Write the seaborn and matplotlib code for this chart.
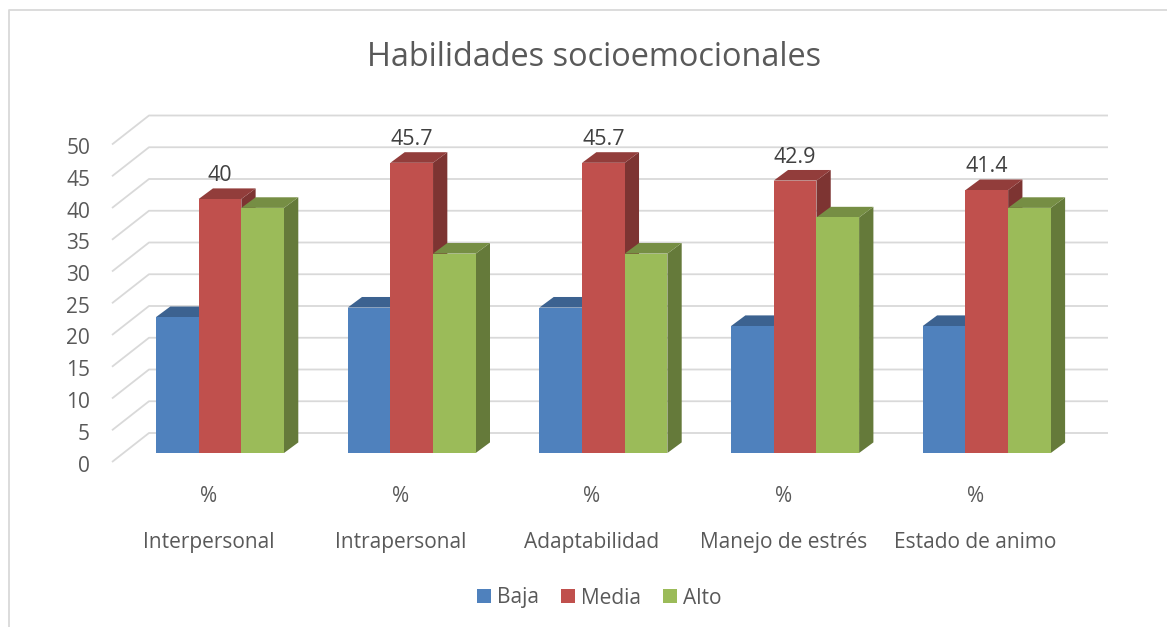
import pandas as pd
import matplotlib.pyplot as plt
import matplotlib.colors as mcolors
from matplotlib.lines import Line2D
from matplotlib.patches import Polygon
import seaborn as sns

# --- Data ---
categories = ["Interpersonal", "Intrapersonal", "Adaptabilidad", "Manejo de estrés", "Estado de animo"]
baja = [21.4, 22.9, 22.9, 20.0, 20.0]
media = [40.0, 45.7, 45.7, 42.9, 41.4]
alto = [38.6, 31.4, 31.4, 37.1, 38.6]
yticks = [0, 5, 10, 15, 20, 25, 30, 35, 40, 45, 50]
colors = ["#4F81BD", "#C0504D", "#9BBB59"]

df = pd.DataFrame({
    "Categoria": categories * 3,
    "Nivel": ["Baja"] * 5 + ["Media"] * 5 + ["Alto"] * 5,
    "Valor": baja + media + alto,
})

# --- Layout, in reference pixels ---
W, H = 1167, 627
cat_px = 191.7      # width of one category
val_px = 6.35       # height of one unit
x0_px = 220.0       # centre of first group on the bars' front plane
y0_px = 453.0       # value 0 on the bars' front plane
depth_x = 14.3 / cat_px
depth_y = 10.6 / val_px
grey = "#D9D9D9"
text_grey = "#595959"

def dark(color, f):
    r, g, b = mcolors.to_rgb(color)
    return (r * f, g * f, b * f)

sns.set_theme(style="white")
plt.rcParams["font.family"] = ["Open Sans", "DejaVu Sans"]

fig = plt.figure(figsize=(W / 100, H / 100), dpi=100)
ax = fig.add_axes([0, 0, 1, 1])

sns.barplot(data=df, x="Categoria", y="Valor", hue="Nivel", palette=colors, saturation=1,
            width=128 / cat_px, gap=0, linewidth=0, ax=ax, zorder=3)

ax.set_xlim((0 - x0_px) / cat_px, (W - x0_px) / cat_px)
ax.set_ylim((y0_px - H) / val_px, y0_px / val_px)
ax.set_axis_off()

# --- Walls: gridlines with the diagonal at the left ---
front_x = (112 - x0_px) / cat_px
back_x = (149 - x0_px) / cat_px
right_x = (1108 - x0_px) / cat_px
front_off = (y0_px - 462) / val_px
back_off = (y0_px - 433) / val_px
label_off = (y0_px - 463.5) / val_px
for v in yticks:
    ax.plot([front_x, back_x, right_x], [v + front_off, v + back_off, v + back_off],
            color=grey, lw=1.3, zorder=1, solid_capstyle="butt")
    ax.text(front_x - 22 / cat_px, v + label_off, str(v), ha="right", va="center_baseline",
            fontsize=15, color=text_grey)

# --- Depth of the bars, from the bars seaborn drew ---
for i, (container, color) in enumerate(zip(ax.containers, colors)):
    for bar in container:
        x1, x2 = bar.get_x(), bar.get_x() + bar.get_width()
        top = bar.get_height()
        side = Polygon([(x2, 0), (x2 + depth_x, depth_y), (x2 + depth_x, top + depth_y), (x2, top)],
                       fc=dark(color, 0.65), ec="none", zorder=2 + i)
        lid = Polygon([(x1, top), (x1 + depth_x, top + depth_y), (x2 + depth_x, top + depth_y), (x2, top)],
                      fc=dark(color, 0.76), ec="none", zorder=2.1 + i)
        ax.add_patch(side)
        ax.add_patch(lid)
        bar.set_zorder(2.2 + i)

# --- Data labels, only on Media ---
for bar, val in zip(ax.containers[1], media):
    ax.text(bar.get_x() + bar.get_width() / 2, val + 26 / val_px, f"{val:g}",
            ha="center", va="center_baseline", fontsize=15.5, color="#404040", zorder=10)

# --- Category labels ---
for i, cat in enumerate(categories):
    xc = i - 11.4 / cat_px
    ax.text(xc, (y0_px - 494) / val_px, "%", ha="center", va="center_baseline",
            fontsize=15, color=text_grey)
    ax.text(xc, (y0_px - 540) / val_px, cat, ha="center", va="center_baseline",
            fontsize=15, color=text_grey)

ax.text((594.5 - x0_px) / cat_px, (y0_px - 54) / val_px, "Habilidades socioemocionales",
        ha="center", va="center_baseline", fontsize=23.4, color=text_grey)

sns.move_legend(ax, "center", bbox_to_anchor=(599 / W, 1 - 598 / H), ncol=3, frameon=False,
                title=None, fontsize=15, labelcolor=text_grey, handlelength=0.67, handleheight=0.67,
                handletextpad=0.29, columnspacing=1.05, borderpad=0)

# --- Chart border ---
fig.add_artist(Line2D([9 / W, 9 / W, 1], [0, 1 - 10 / H, 1 - 10 / H], color=grey, lw=1.3))

fig.savefig("out.png", dpi=100, facecolor="white")
